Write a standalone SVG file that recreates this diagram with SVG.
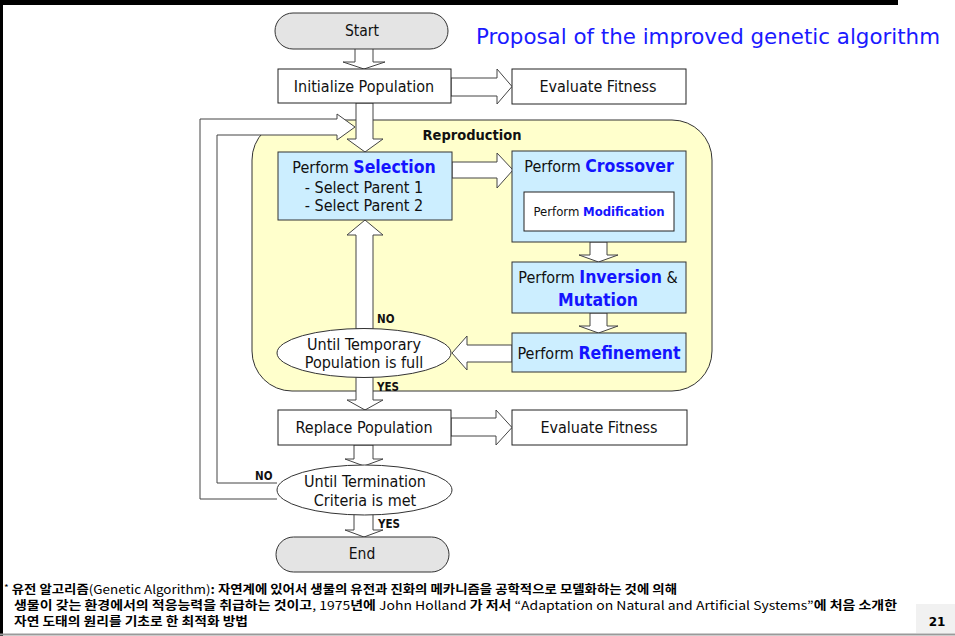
<svg xmlns="http://www.w3.org/2000/svg" width="955" height="636" viewBox="0 0 955 636">
  <style>
    .t { font-family: 'DejaVu Sans Condensed', 'DejaVu Sans', sans-serif; font-stretch: condensed; fill: #111; }
    .box { fill: #fff; stroke: #222; stroke-width: 1; }
    .blue { fill: #cceeff; stroke: #333; stroke-width: 1; }
    .term { fill: #e4e4e4; stroke: #333; stroke-width: 1; }
    .dec { fill: #fff; stroke: #333; stroke-width: 1; }
    .arr { fill: #fff; stroke: #444; stroke-width: 1; stroke-linejoin: miter; }
    .k { font-weight: bold; fill: #1414ff; }
    .lbl { font-family: 'DejaVu Sans Condensed', 'DejaVu Sans', sans-serif; font-stretch: condensed; font-weight: bold; font-size: 11.5px; fill: #111; }
    .note { font-family: 'Noto Sans CJK KR', sans-serif; font-size: 12px; font-weight: bold; fill: #000; }
    .note .en { font-weight: normal; }
  </style>

  <!-- page frame -->
  <rect x="0" y="0" width="955" height="636" fill="#fff"/>
  <rect x="0" y="0" width="898" height="5" fill="#000"/>
  <rect x="0" y="0" width="3" height="636" fill="#000"/>
  <line x1="0" y1="634.5" x2="955" y2="634.5" stroke="#9a9a9a" stroke-width="2"/>

  <!-- title -->
  <text x="476" y="44" font-family="'DejaVu Sans Condensed', 'DejaVu Sans', sans-serif" font-stretch="condensed" font-size="22" fill="#1a1aff" textLength="464" lengthAdjust="spacingAndGlyphs">Proposal of the improved genetic algorithm</text>

  <!-- reproduction region -->
  <g id="reproduction">
    <rect x="252" y="120" width="460" height="271" rx="40" ry="40" fill="#ffffcc" stroke="#333" stroke-width="1"/>
    <text class="t" x="472" y="140" font-size="14.5" font-weight="bold" text-anchor="middle">Reproduction</text>
  </g>

  <!-- connectors (block arrows) -->
  <g id="connectors">
    <!-- Start -> Initialize -->
    <polygon class="arr" points="355,48 373,48 373,62 385,62 364,69 343,62 355,62"/>
    <!-- Initialize -> Evaluate Fitness -->
    <polygon class="arr" points="451,78 497,78 497,69 512,86.5 497,104 497,96 451,96"/>
    <!-- Initialize -> Selection -->
    <polygon class="arr" points="356,103 373,103 373,139 383,139 365,152 347,139 356,139"/>
    <!-- loop back from Until Termination -->
    <polyline class="arr" fill="#fff" points="277,483 217,483 217,135 337,135 337,140 355,127 337,114 337,119 200,119 200,499 277,499"/>
    <!-- Selection -> Crossover -->
    <polygon class="arr" points="452,162 497,162 497,153 513,170 497,188 497,178 452,178"/>
    <!-- Crossover -> Inversion -->
    <polygon class="arr" points="590,242 607,242 607,255 618,255 598.5,262 579,255 590,255"/>
    <!-- Inversion -> Refinement -->
    <polygon class="arr" points="590,313 607,313 607,326 618,326 598.5,333 579,326 590,326"/>
    <!-- Refinement -> Until Temporary -->
    <polygon class="arr" points="512,345 467,345 467,336 452,353 467,370 467,362 512,362"/>
    <!-- Until Temporary -> Selection (NO) -->
    <polygon class="arr" points="356,329 373,329 373,235 383,235 365,220 347,235 356,235"/>
    <!-- Until Temporary -> Replace (YES) -->
    <polygon class="arr" points="356,377 373,377 373,400 383,400 365,410 347,400 356,400"/>
    <!-- Replace -> Evaluate Fitness -->
    <polygon class="arr" points="451,418 496,418 496,410 512,427.5 496,445 496,436 451,436"/>
    <!-- Replace -> Until Termination -->
    <polygon class="arr" points="354,445 373,445 373,459 383,459 364,466 345,459 354,459"/>
    <!-- Until Termination -> End (YES) -->
    <polygon class="arr" points="354,514 373,514 373,530 383,530 364,537 345,530 354,530"/>
    <text class="lbl" x="377" y="323">NO</text>
    <text class="lbl" x="377" y="391">YES</text>
    <text class="lbl" x="255" y="480">NO</text>
    <text class="lbl" x="378" y="528">YES</text>
  </g>

  <g id="start">
    <rect class="term" x="275" y="13" width="173" height="36" rx="18" ry="18"/>
    <text class="t" x="362" y="36" font-size="15.5" text-anchor="middle">Start</text>
  </g>

  <g id="init">
    <rect class="box" x="278" y="69" width="173" height="34"/>
    <text class="t" x="364" y="92" font-size="16" text-anchor="middle">Initialize Population</text>
  </g>

  <g id="eval1">
    <rect class="box" x="512" y="69" width="174" height="35"/>
    <text class="t" x="598" y="92" font-size="16" text-anchor="middle">Evaluate Fitness</text>
  </g>

  <g id="selection">
    <rect class="blue" x="278" y="152" width="174" height="68"/>
    <text class="t" x="364" y="173" font-size="16" text-anchor="middle">Perform <tspan class="k" font-size="17.5">Selection</tspan></text>
    <text class="t" x="364" y="193" font-size="16" text-anchor="middle">- Select Parent 1</text>
    <text class="t" x="364" y="211" font-size="16" text-anchor="middle">- Select Parent 2</text>
  </g>

  <g id="crossover">
    <rect class="blue" x="512" y="151" width="174" height="91"/>
    <text class="t" x="599" y="172" font-size="16" text-anchor="middle">Perform <tspan class="k" font-size="17.5">Crossover</tspan></text>
    <rect class="box" x="524" y="192" width="150" height="39"/>
    <text class="t" x="599" y="216" font-size="13" text-anchor="middle">Perform <tspan class="k">Modification</tspan></text>
  </g>

  <g id="inversion">
    <rect class="blue" x="512" y="262" width="174" height="51"/>
    <text class="t" x="598" y="283" font-size="16" text-anchor="middle">Perform <tspan class="k" font-size="17.5">Inversion</tspan> &amp;</text>
    <text class="t" x="598" y="306" font-size="17.5" text-anchor="middle"><tspan class="k">Mutation</tspan></text>
  </g>

  <g id="refinement">
    <rect class="blue" x="512" y="333" width="174" height="39"/>
    <text class="t" x="599" y="359" font-size="16" text-anchor="middle">Perform <tspan class="k" font-size="17.5">Refinement</tspan></text>
  </g>

  <g id="until-temp">
    <ellipse class="dec" cx="364" cy="353" rx="87" ry="24.5"/>
    <text class="t" x="364" y="350" font-size="16" text-anchor="middle">Until Temporary</text>
    <text class="t" x="364" y="368" font-size="16" text-anchor="middle">Population is full</text>
  </g>

  <g id="replace">
    <rect class="box" x="278" y="410" width="173" height="35"/>
    <text class="t" x="364" y="433" font-size="16" text-anchor="middle">Replace Population</text>
  </g>

  <g id="eval2">
    <rect class="box" x="512" y="410" width="175" height="35"/>
    <text class="t" x="599" y="433" font-size="16" text-anchor="middle">Evaluate Fitness</text>
  </g>

  <g id="until-term">
    <ellipse class="dec" cx="364.5" cy="490" rx="87.5" ry="25"/>
    <text class="t" x="365" y="487" font-size="16" text-anchor="middle">Until Termination</text>
    <text class="t" x="365" y="506" font-size="16" text-anchor="middle">Criteria is met</text>
  </g>

  <g id="end">
    <rect class="term" x="276" y="537" width="173" height="35" rx="17.5" ry="17.5"/>
    <text class="t" x="362" y="559" font-size="15.5" text-anchor="middle">End</text>
  </g>

  <!-- footnote -->
  <g id="footnote">
    <text class="note" x="4" y="594" textLength="673" lengthAdjust="spacingAndGlyphs"><tspan class="en" font-size="9" dy="-3">*</tspan><tspan dy="3"> 유전 알고리즘</tspan><tspan class="en">(Genetic Algorithm)</tspan>: 자연계에 있어서 생물의 유전과 진화의 메카니즘을 공학적으로 모델화하는 것에 의해</text>
    <text class="note" x="14" y="610" textLength="883" lengthAdjust="spacingAndGlyphs">생물이 갖는 환경에서의 적응능력을 취급하는 것이고<tspan class="en">, 1975</tspan>년에<tspan class="en"> John Holland </tspan>가 저서<tspan class="en"> “Adaptation on Natural and Artificial Systems”</tspan>에 처음 소개한</text>
    <text class="note" x="14" y="626" textLength="234" lengthAdjust="spacingAndGlyphs">자연 도태의 원리를 기초로 한 최적화 방법</text>
  </g>

  <!-- page number -->
  <g id="page-number">
    <rect x="916" y="604" width="39" height="29" fill="#f1f1f1"/>
    <text x="937" y="626" font-family="'DejaVu Sans', sans-serif" font-weight="bold" font-size="12" text-anchor="middle" fill="#000">21</text>
  </g>
</svg>
